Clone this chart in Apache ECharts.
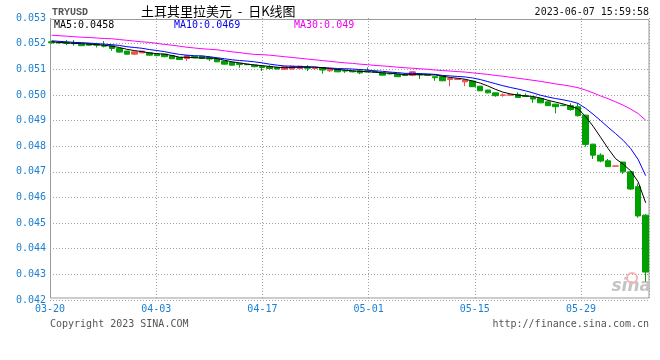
<!DOCTYPE html>
<html>
<head>
<meta charset="utf-8">
<script src="https://cdn.jsdelivr.net/npm/echarts@6/dist/echarts.min.js"></script>
<style>html,body{margin:0;padding:0;background:#fff}#c{width:660px;height:360px}</style>
</head>
<body>
<div id="c"></div>
<script>
const dates = ['03-20','03-21','03-22','03-23','03-24','03-25','03-26','03-27','03-28','03-29','03-30','03-31',
'04-01','04-02','04-03','04-04','04-05','04-06','04-07','04-08','04-09','04-10','04-11','04-12','04-13','04-14','04-15',
'04-16','04-17','04-18','04-19','04-20','04-21','04-22','04-23','04-24','04-25','04-26','04-27','04-28','04-29','04-30',
'05-01','05-02','05-03','05-04','05-05','05-06','05-07','05-08','05-09','05-10','05-11','05-12','05-13','05-14','05-15',
'05-16','05-17','05-18','05-19','05-20','05-21','05-22','05-23','05-24','05-25','05-26','05-27','05-28','05-29','05-30',
'05-31','06-01','06-02','06-03','06-04','06-05','06-06','06-07'];

const opens = [0.05207,0.05205,0.05204,0.05203,0.05198,0.05200,0.05197,0.05193,0.05192,0.05181,
0.05171,0.05159,0.05164,0.05164,0.05159,0.05159,0.05153,0.05146,0.05142,0.05150,
0.05151,0.05145,0.05140,0.05132,0.05127,0.05123,0.05120,0.05116,0.05112,0.05110,
0.05107,0.05100,0.05101,0.05103,0.05108,0.05103,0.05107,0.05094,0.05099,0.05095,
0.05093,0.05094,0.05094,0.05091,0.05086,0.05084,0.05081,0.05078,0.05077,0.05081,
0.05079,0.05071,0.05071,0.05060,0.05060,0.05051,0.05054,0.05034,0.05019,0.05008,
0.04999,0.04999,0.05002,0.04997,0.04990,0.04986,0.04973,0.04964,0.04960,0.04958,
0.04954,0.04921,0.04808,0.04765,0.04743,0.04722,0.04738,0.04700,0.04642,0.04531];

const closes = [0.05203,0.05203,0.05201,0.05200,0.05192,0.05194,0.05194,0.05190,0.05181,0.05167,
0.05159,0.05168,0.05171,0.05155,0.05153,0.05149,0.05141,0.05138,0.05153,0.05145,
0.05142,0.05140,0.05129,0.05120,0.05116,0.05119,0.05118,0.05110,0.05107,0.05103,
0.05101,0.05110,0.05112,0.05112,0.05104,0.05105,0.05097,0.05099,0.05090,0.05093,
0.05090,0.05086,0.05090,0.05088,0.05077,0.05082,0.05071,0.05076,0.05090,0.05078,
0.05077,0.05067,0.05055,0.05064,0.05062,0.05058,0.05032,0.05016,0.05008,0.04997,
0.05000,0.05001,0.04990,0.04994,0.04984,0.04969,0.04958,0.04954,0.04958,0.04943,
0.04919,0.04807,0.04765,0.04742,0.04720,0.04723,0.04700,0.04633,0.04528,0.04309];

const lows = [0.05200,0.05200,0.05194,0.05192,0.05191,0.05193,0.05185,0.05185,0.05172,0.05165,
0.05158,0.05155,0.05163,0.05154,0.05152,0.05147,0.05140,0.05136,0.05133,0.05143,
0.05140,0.05132,0.05128,0.05119,0.05115,0.05106,0.05116,0.05108,0.05093,0.05100,
0.05100,0.05099,0.05100,0.05102,0.05093,0.05097,0.05083,0.05090,0.05089,0.05086,
0.05088,0.05081,0.05089,0.05087,0.05076,0.05080,0.05070,0.05075,0.05073,0.05062,
0.05076,0.05055,0.05054,0.05034,0.05058,0.05034,0.05031,0.05015,0.05006,0.04993,
0.04993,0.04998,0.04989,0.04992,0.04969,0.04968,0.04957,0.04928,0.04957,0.04938,
0.04915,0.04798,0.04750,0.04737,0.04719,0.04722,0.04692,0.04629,0.04521,0.04272];

const highs = [0.05210,0.05207,0.05214,0.05214,0.05199,0.05201,0.05203,0.05210,0.05193,0.05182,
0.05172,0.05169,0.05172,0.05166,0.05160,0.05160,0.05154,0.05147,0.05154,0.05152,
0.05152,0.05151,0.05141,0.05133,0.05128,0.05124,0.05122,0.05117,0.05114,0.05116,
0.05108,0.05111,0.05113,0.05113,0.05116,0.05107,0.05108,0.05100,0.05100,0.05097,
0.05095,0.05095,0.05107,0.05092,0.05087,0.05085,0.05082,0.05079,0.05093,0.05084,
0.05080,0.05072,0.05072,0.05065,0.05064,0.05059,0.05055,0.05035,0.05020,0.05009,
0.05006,0.05002,0.05010,0.05006,0.04991,0.04987,0.04974,0.04965,0.04962,0.04967,
0.04967,0.04922,0.04809,0.04772,0.04750,0.04723,0.04739,0.04701,0.04655,0.04535];

const ma5 = [0.05207,0.05205,0.05203,0.05201,0.05200,0.05198,0.05196,0.05194,0.05190,0.05185,
0.05178,0.05173,0.05169,0.05164,0.05161,0.05159,0.05154,0.05147,0.05147,0.05145,
0.05144,0.05144,0.05142,0.05135,0.05129,0.05125,0.05120,0.05117,0.05114,0.05111,
0.05108,0.05106,0.05107,0.05108,0.05108,0.05109,0.05106,0.05103,0.05099,0.05097,
0.05094,0.05092,0.05090,0.05089,0.05086,0.05085,0.05082,0.05079,0.05079,0.05079,
0.05078,0.05078,0.05073,0.05068,0.05065,0.05061,0.05054,0.05046,0.05035,0.05022,
0.05011,0.05004,0.04999,0.04996,0.04994,0.04988,0.04979,0.04972,0.04965,0.04956,
0.04946,0.04916,0.04878,0.04835,0.04791,0.04751,0.04730,0.04704,0.04661,0.04579];

const ma10 = [0.05211,0.05209,0.05207,0.05205,0.05204,0.05202,0.05200,0.05198,0.05196,0.05193,
0.05188,0.05185,0.05182,0.05177,0.05173,0.05169,0.05163,0.05158,0.05155,0.05153,
0.05152,0.05149,0.05145,0.05141,0.05137,0.05134,0.05132,0.05129,0.05125,0.05120,
0.05116,0.05113,0.05112,0.05111,0.05110,0.05108,0.05106,0.05105,0.05103,0.05102,
0.05101,0.05099,0.05097,0.05094,0.05092,0.05089,0.05087,0.05084,0.05084,0.05083,
0.05082,0.05080,0.05076,0.05074,0.05072,0.05070,0.05066,0.05060,0.05052,0.05044,
0.05036,0.05029,0.05023,0.05016,0.05008,0.04999,0.04992,0.04986,0.04981,0.04975,
0.04967,0.04948,0.04925,0.04900,0.04874,0.04849,0.04823,0.04791,0.04748,0.04685];

const ma30 = [0.05233,0.05231,0.05229,0.05227,0.05225,0.05224,0.05222,0.05220,0.05219,0.05216,
0.05213,0.05210,0.05207,0.05205,0.05201,0.05197,0.05194,0.05190,0.05186,0.05183,
0.05180,0.05178,0.05176,0.05172,0.05168,0.05165,0.05161,0.05158,0.05157,0.05155,
0.05152,0.05149,0.05146,0.05143,0.05140,0.05137,0.05134,0.05131,0.05128,0.05125,
0.05123,0.05120,0.05118,0.05115,0.05113,0.05111,0.05108,0.05106,0.05104,0.05102,
0.05100,0.05097,0.05095,0.05093,0.05091,0.05089,0.05086,0.05083,0.05080,0.05076,
0.05073,0.05069,0.05065,0.05061,0.05057,0.05053,0.05048,0.05043,0.05039,0.05034,
0.05028,0.05019,0.05008,0.04996,0.04985,0.04973,0.04960,0.04945,0.04927,0.04901];

const labelStep = 14;
const yMin = 0.042, yMax = 0.053, yStep = 0.001;

const kData = dates.map((d, i) => [opens[i], closes[i], lows[i], highs[i]]);

const mono = '"DejaVu Sans Mono", monospace';
const blue = '#1a7fd2';
const gridLine = {color: '#a0a0a0', width: 1, type: [1, 2]};

const chart = echarts.init(document.getElementById('c'), null, {renderer: 'canvas'});
chart.setOption({
  animation: false,
  backgroundColor: '#ffffff',
  grid: [
    {left: 50, top: 18, width: 599.3, height: 282},
    {left: 47.84, top: 18, width: 601.6, height: 282}
  ],
  xAxis: [
    {
      type: 'value', gridIndex: 0, min: 0, max: dates.length - 1, interval: labelStep,
      axisLine: {show: false}, axisTick: {show: false},
      splitLine: {show: true, lineStyle: gridLine},
      axisLabel: {
        color: blue, fontFamily: mono, fontSize: 10, margin: 4,
        formatter: v => (v % labelStep === 0 ? dates[v] : '')
      }
    },
    {type: 'category', gridIndex: 1, data: dates, boundaryGap: true, show: false}
  ],
  yAxis: [
    {
      type: 'value', gridIndex: 0, min: yMin, max: yMax, interval: yStep,
      axisLine: {show: false}, axisTick: {show: false},
      splitLine: {show: true, showMaxLine: false, lineStyle: gridLine},
      axisLabel: {color: blue, fontFamily: mono, fontSize: 10, margin: 4,
        formatter: v => v.toFixed(3)}
    },
    {type: 'value', gridIndex: 1, min: yMin, max: yMax, show: false}
  ],
  graphic: {elements: [
    {type: 'rect', silent: true, z: 1,
      shape: {x: 50.5, y: 19.5, width: 598.5, height: 278.5},
      style: {fill: 'none', stroke: '#9a9a9a', lineWidth: 1}},
    {type: 'text', silent: true, z: 1, x: 651, y: 287,
      style: {text: 'sina', fill: '#c4c4c4', font: 'italic bold 17px "DejaVu Sans"', align: 'right', verticalAlign: 'middle'}},
    {type: 'circle', silent: true, z: 1, shape: {cx: 632, cy: 278, r: 5},
      style: {fill: 'none', stroke: '#f2b4b4', lineWidth: 2}},
    {type: 'text', silent: true, x: 52, y: 12,
      style: {text: 'TRYUSD', fill: '#555', font: 'bold 10px "Liberation Mono"', verticalAlign: 'middle'}},
    {type: 'text', silent: true, x: 141, y: 11,
      style: {text: '土耳其里拉美元  -  日K线图', fill: '#000', font: '13px "Noto Sans CJK SC"', verticalAlign: 'middle'}},
    {type: 'text', silent: true, x: 649, y: 12,
      style: {text: '2023-06-07 15:59:58', fill: '#111', font: '10px ' + mono, align: 'right', verticalAlign: 'middle'}},
    {type: 'text', silent: true, z: 3, x: 54, y: 25,
      style: {text: 'MA5:0.0458', fill: '#000', font: '10px ' + mono, verticalAlign: 'middle'}},
    {type: 'text', silent: true, z: 3, x: 174, y: 25,
      style: {text: 'MA10:0.0469', fill: '#0000ee', font: '10px ' + mono, verticalAlign: 'middle'}},
    {type: 'text', silent: true, z: 3, x: 294, y: 25,
      style: {text: 'MA30:0.049', fill: '#ee00ee', font: '10px ' + mono, verticalAlign: 'middle'}},
    {type: 'text', silent: true, x: 50, y: 324,
      style: {text: 'Copyright 2023 SINA.COM', fill: '#555', font: '10px ' + mono, verticalAlign: 'middle'}},
    {type: 'text', silent: true, x: 649, y: 324,
      style: {text: 'http://finance.sina.com.cn', fill: '#555', font: '10px ' + mono, align: 'right', verticalAlign: 'middle'}}
  ]},
  series: [
    {
      type: 'candlestick', xAxisIndex: 1, yAxisIndex: 1, data: kData, barWidth: 6,
      itemStyle: {color: '#f05050', color0: '#00a000', borderColor: '#f05050', borderColor0: '#00a000', borderWidth: 1}
    },
    {type: 'line', xAxisIndex: 1, yAxisIndex: 1, data: ma30, symbol: 'none',
      lineStyle: {color: '#ff00ff', width: 1}},
    {type: 'line', xAxisIndex: 1, yAxisIndex: 1, data: ma10, symbol: 'none',
      lineStyle: {color: '#0000ff', width: 1}},
    {type: 'line', xAxisIndex: 1, yAxisIndex: 1, data: ma5, symbol: 'none',
      lineStyle: {color: '#000000', width: 1}}
  ]
});
</script>
</body>
</html>
